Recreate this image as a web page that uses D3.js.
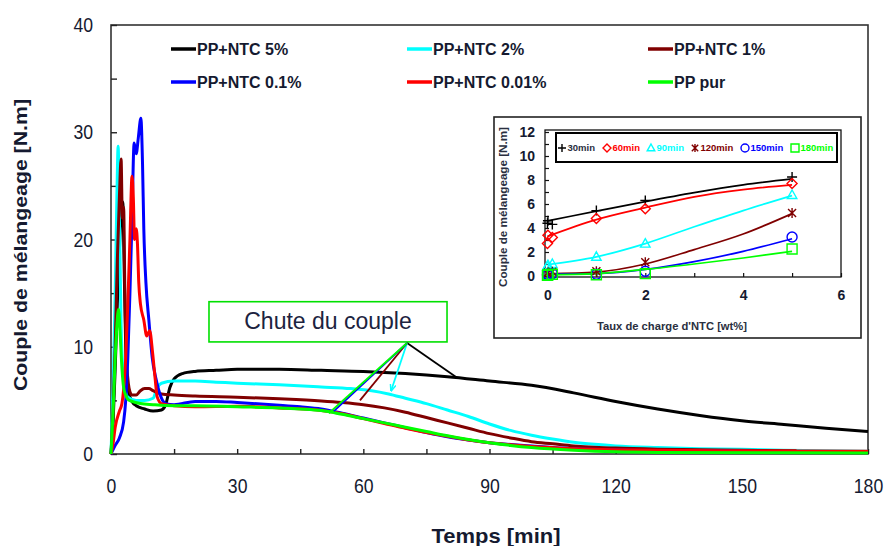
<!DOCTYPE html>
<html>
<head>
<meta charset="utf-8">
<script src="https://cdn.jsdelivr.net/npm/d3@7"></script>
<style>
  html, body { margin: 0; padding: 0; background: #ffffff; }
  svg { display: block; }
</style>
</head>
<body>
<svg id="chart" width="888" height="546"></svg>
<script>
// ---------- Mixing torque curves: [time (min), torque (N.m)] ----------
const seriesNames = ["PP+NTC 5%", "PP+NTC 2%", "PP+NTC 1%", "PP+NTC 0.1%", "PP+NTC 0.01%", "PP pur"];
const seriesColors = ["#000000", "#00ffff", "#800000", "#0000ff", "#ff0000", "#00ff00"];

const torqueNTC5 = [[0,0],[0.5,3],[1,8],[1.5,14],[2,19],[2.5,23],[2.8,23.5],[3.1,18],[3.5,10],[4,6],[5,4.9],[6,4.5],[8,4.2],[10,4.0],[12,4.1],[13,4.6],[14,6.2],[15,7.0],[17,7.5],[20,7.7],[25,7.8],[30,7.9],[40,7.9],[50,7.8],[60,7.7],[70,7.5],[80,7.2],[90,6.8],[100,6.4],[110,5.7],[120,4.9],[130,4.2],[140,3.6],[150,3.1],[160,2.75],[170,2.4],[180,2.1]];
const torqueNTC2 = [[0,0],[0.5,6],[1,15],[1.4,24],[1.7,28.7],[2,22],[2.4,12],[3,7],[3.5,5.8],[4,5.3],[6,5.0],[8,5.0],[10,5.2],[11,6.2],[12,6.6],[15,6.8],[20,6.8],[25,6.7],[30,6.6],[40,6.45],[50,6.25],[57,6.1],[62,5.9],[66,5.6],[70,5.2],[75,4.7],[80,4.1],[85,3.5],[90,2.8],[95,2.2],[100,1.75],[105,1.4],[110,1.1],[115,0.9],[120,0.75],[130,0.6],[140,0.5],[150,0.45],[160,0.35],[170,0.3],[180,0.25]];
const torqueNTC1 = [[0,0],[0.5,4],[1,10],[1.5,18],[2,24],[2.4,27.5],[2.7,22],[3,23],[3.3,15],[3.8,8],[4.5,5.8],[5,5.5],[6,5.5],[7,5.9],[8,6.1],[9,6.1],[10,5.9],[12,5.6],[15,5.5],[20,5.4],[30,5.3],[40,5.15],[50,4.95],[55,4.8],[60,4.6],[65,4.3],[70,3.9],[75,3.4],[80,2.9],[85,2.4],[90,1.9],[95,1.5],[100,1.15],[105,0.95],[110,0.75],[120,0.55],[130,0.45],[140,0.4],[150,0.35],[163,0.3]];
const torqueNTC01 = [[0,0],[1,0.8],[2,1.5],[3,3],[3.5,5],[4,9],[4.5,15],[5,22],[5.5,29],[6,28],[6.5,29.5],[7.1,31.3],[7.5,27],[7.8,21],[8.3,16],[9,12.5],[9.8,9],[10.7,7],[11.9,5.3],[13,4.7],[15,4.6],[20,4.9],[25,4.9],[30,4.8],[40,4.55],[45,4.4],[50,4.2],[55,3.8],[60,3.35],[65,2.9],[70,2.45],[75,2.0],[80,1.6],[85,1.3],[90,1.05],[100,0.75],[110,0.5],[120,0.4],[130,0.3],[140,0.3],[150,0.25],[160,0.2],[180,0.15]];
const torqueNTC001 = [[0,0],[0.5,1],[1,2.5],[2,4],[2.6,4.7],[3,6],[3.5,9],[4,14],[4.5,20],[5,25.9],[5.3,24],[5.6,20],[6,21],[6.3,19.5],[6.6,16],[7,14],[7.8,12.5],[8.5,11],[9.2,11.5],[9.9,9.4],[10.5,7],[11,5.3],[12,4.7],[15,4.5],[20,4.4],[30,4.45],[40,4.3],[50,4.05],[55,3.75],[60,3.3],[65,2.85],[70,2.4],[75,2.0],[80,1.65],[85,1.3],[90,1.05],[100,0.7],[110,0.5],[120,0.4],[130,0.35],[150,0.3],[180,0.25]];
const torquePP = [[0,0],[0.5,4],[1,9],[1.4,12],[1.8,13.5],[2.2,11],[2.6,8],[3,6.2],[3.5,5.5],[4,5.1],[5,4.9],[7,4.7],[10,4.6],[15,4.5],[20,4.5],[30,4.4],[40,4.3],[45,4.2],[50,4.05],[55,3.7],[60,3.3],[65,2.9],[70,2.5],[75,2.1],[80,1.7],[85,1.35],[90,1.05],[95,0.8],[100,0.6],[110,0.35],[120,0.2],[130,0.15],[180,0.1]];

const xTickLabels = [0, 30, 60, 90, 120, 150, 180];
const xTickMarks = [0, 15, 30, 45, 60, 75, 90, 105, 120, 135, 150, 165, 180];
const yTickLabels = [0, 10, 20, 30, 40];
const yTickMarks = [0, 5, 10, 15, 20, 25, 30, 35, 40];

// "Chute du couple" callout: box corners, hub and curve targets in (min, N.m)
const calloutText = "Chute du couple";
const calloutBox = [[23.3, 14.2], [79.9, 10.45]];
const calloutHub = [70.4, 10.35];
const calloutTargets = [[82.3, 7.1], [66.6, 5.9], [59.2, 5.0], [53.0, 4.0], [51.8, 3.8]];
const calloutColors = ["#000000", "#00ffff", "#800000", "#0000ff", "#00ff00"];

// ---------- Inset: torque versus NTC loading at fixed times ----------
const loadings = [0, 0.01, 0.1, 1, 2, 5];
const timeLabels = ["30min", "60min", "90min", "120min", "150min", "180min"];
const timeColors = ["#000000", "#ff0000", "#00ffff", "#800000", "#0000ff", "#00ff00"];
const at30 = [4.4, 4.6, 4.3, 5.45, 6.3, 8.25];
const at60 = [2.7, 3.4, 3.2, 4.8, 5.6, 7.7];
const at90 = [0.8, 0.9, 1.0, 1.6, 2.7, 6.75];
const at120 = [0.2, 0.3, 0.35, 0.4, 1.15, 5.25];
const at150 = [0.1, 0.15, 0.2, 0.15, 0.4, 3.25];
const at180 = [0.05, 0.1, 0.15, 0.1, 0.2, 2.25];
const fitLoadings = [0, 1, 2, 3, 4, 5];
const fit30 = [4.6, 5.4, 6.2, 6.95, 7.6, 8.1];
const fit60 = [3.3, 4.7, 5.7, 6.6, 7.2, 7.6];
const fit90 = [0.95, 1.6, 2.7, 4.1, 5.45, 6.7];
const fit120 = [0.2, 0.33, 1.0, 2.2, 3.5, 5.2];
const fit150 = [0.15, 0.2, 0.55, 1.2, 2.05, 3.1];
const fit180 = [0.1, 0.2, 0.55, 1.0, 1.5, 2.05];
const insetXLabels = [0, 2, 4, 6];
const insetYLabels = [0, 2, 4, 6, 8, 10, 12];

// ---------- Drawing ----------
const svg = d3.select("#chart");
const TXT = "#151a30";
const SANS = "'Liberation Sans',Arial,Helvetica,sans-serif";
const digitWidth = 9.8;   // condensed numerals on the main axes

const x = d3.scaleLinear().domain([0, 180]).range([111, 868]);
const y = d3.scaleLinear().domain([0, 40]).range([454, 25]);

// plot frame
svg.append("rect")
  .attr("x", x(0)).attr("y", y(40))
  .attr("width", x(180) - x(0)).attr("height", y(0) - y(40))
  .attr("fill", "none").attr("stroke", "#333").attr("stroke-width", 1.6);

// inward tick marks
const gxt = svg.append("g").attr("transform", `translate(0,${y(0)})`)
  .call(d3.axisBottom(x).tickValues(xTickMarks).tickSize(-5).tickFormat(""));
gxt.select(".domain").remove();
gxt.selectAll("line").attr("stroke", "#222").attr("stroke-width", 1.4);

const gyt = svg.append("g").attr("transform", `translate(${x(0)},0)`)
  .call(d3.axisLeft(y).tickValues(yTickMarks).tickSize(-6).tickFormat(""));
gyt.select(".domain").remove();
gyt.selectAll("line").attr("stroke", "#222").attr("stroke-width", 1.4);

// tick labels (narrow numerals)
function narrowLabels(sel) {
  sel.selectAll("text")
    .attr("font-family", SANS).attr("font-size", 21).attr("fill", TXT)
    .attr("textLength", d => String(d).length * digitWidth)
    .attr("lengthAdjust", "spacingAndGlyphs");
}
const gxl = svg.append("g").attr("transform", `translate(0,${y(0)})`)
  .call(d3.axisBottom(x).tickValues(xTickLabels).tickSize(0).tickPadding(24).tickFormat(d3.format("d")));
gxl.select(".domain").remove();
narrowLabels(gxl);

const gyl = svg.append("g").attr("transform", `translate(${x(0)},0)`)
  .call(d3.axisLeft(y).tickValues(yTickLabels).tickSize(0).tickPadding(18).tickFormat(d3.format("d")));
gyl.select(".domain").remove();
narrowLabels(gyl);

// axis titles
svg.append("text")
  .attr("x", 496).attr("y", 536).attr("dy", "0.35em")
  .attr("text-anchor", "middle")
  .attr("font-family", SANS)
  .attr("font-weight", "bold").attr("font-size", 21).attr("fill", TXT)
  .attr("textLength", 129).attr("lengthAdjust", "spacingAndGlyphs")
  .text("Temps [min]");

svg.append("text")
  .attr("transform", "translate(20,245) rotate(-90)")
  .attr("dy", "0.35em").attr("text-anchor", "middle")
  .attr("font-family", SANS).attr("font-weight", "bold").attr("font-size", 19).attr("fill", TXT)
  .attr("textLength", 292).attr("lengthAdjust", "spacingAndGlyphs")
  .text("Couple de mélangeage [N.m]");

// torque curves
const torqueSeries = [torqueNTC5, torqueNTC2, torqueNTC1, torqueNTC01, torqueNTC001, torquePP];
const line = d3.line().x(d => x(d[0])).y(d => y(d[1])).curve(d3.curveMonotoneX);
svg.append("g").selectAll("path").data(torqueSeries).join("path")
  .attr("d", line)
  .attr("fill", "none")
  .attr("stroke", (d, i) => seriesColors[i])
  .attr("stroke-width", 3)
  .attr("stroke-linejoin", "round");

// legend (3 columns x 2 rows)
const legCols = [171, 407, 648];
const legRows = [49, 82];
const leg = svg.append("g").selectAll("g").data(seriesNames).join("g")
  .attr("transform", (d, i) => `translate(${legCols[i % 3]},${legRows[Math.floor(i / 3)]})`);
leg.append("line").attr("x1", 0).attr("x2", 25).attr("y1", 0).attr("y2", 0)
  .attr("stroke", (d, i) => seriesColors[i]).attr("stroke-width", 3.5);
leg.append("text").attr("x", 26).attr("dy", "0.36em")
  .attr("font-family", SANS).attr("font-weight", "bold").attr("font-size", 16).attr("fill", TXT)
  .text(d => d);

// callout
const cb = svg.append("g");
cb.append("rect")
  .attr("x", x(calloutBox[0][0])).attr("y", y(calloutBox[0][1]))
  .attr("width", x(calloutBox[1][0]) - x(calloutBox[0][0]))
  .attr("height", y(calloutBox[1][1]) - y(calloutBox[0][1]))
  .attr("fill", "#ffffff").attr("stroke", "#00e000").attr("stroke-width", 1.6);
cb.append("text")
  .attr("x", (x(calloutBox[0][0]) + x(calloutBox[1][0])) / 2)
  .attr("y", (y(calloutBox[0][1]) + y(calloutBox[1][1])) / 2)
  .attr("dy", "0.3em").attr("text-anchor", "middle")
  .attr("font-family", SANS).attr("font-size", 23).attr("fill", "#1c2340")
  .text(calloutText);

const defs = svg.append("defs");
defs.append("marker").attr("id", "arrowCyan")
  .attr("viewBox", "0 0 10 10").attr("refX", 9).attr("refY", 5)
  .attr("markerWidth", 4).attr("markerHeight", 4).attr("orient", "auto")
  .append("path").attr("d", "M0,1L10,5L0,9").attr("fill", "none")
  .attr("stroke", "#00ffff").attr("stroke-width", 2);

cb.selectAll("line.pointer").data(calloutTargets).join("line")
  .attr("class", "pointer")
  .attr("x1", x(calloutHub[0])).attr("y1", y(calloutHub[1]))
  .attr("x2", d => x(d[0])).attr("y2", d => y(d[1]))
  .attr("stroke", (d, i) => calloutColors[i]).attr("stroke-width", 1.8)
  .attr("marker-end", (d, i) => i === 1 ? "url(#arrowCyan)" : null);

// ---------- inset ----------
const inset = svg.append("g");
inset.append("rect").attr("x", 494).attr("y", 117).attr("width", 367).attr("height", 221)
  .attr("fill", "#ffffff").attr("stroke", "#222").attr("stroke-width", 1.6);

const ix = d3.scaleLinear().domain([-0.05, 6]).range([545, 841]);
const iy = d3.scaleLinear().domain([0, 12]).range([276, 132]);

inset.append("rect").attr("x", ix(-0.05)).attr("y", 130)
  .attr("width", ix(6) - ix(-0.05)).attr("height", 147)
  .attr("fill", "none").attr("stroke", "#111").attr("stroke-width", 1.3);

const ixt = inset.append("g").attr("transform", "translate(0,277)")
  .call(d3.axisBottom(ix).tickValues(d3.range(0, 7)).tickSize(-4).tickFormat(""));
ixt.select(".domain").remove();
ixt.selectAll("line").attr("stroke", "#111").attr("stroke-width", 1.2);
const iyt = inset.append("g").attr("transform", `translate(${ix(-0.05)},0)`)
  .call(d3.axisLeft(iy).tickValues(d3.range(0, 13)).tickSize(-4).tickFormat(""));
iyt.select(".domain").remove();
iyt.selectAll("line").attr("stroke", "#111").attr("stroke-width", 1.2);

const ixl = inset.append("g").attr("transform", "translate(0,277)")
  .call(d3.axisBottom(ix).tickValues(insetXLabels).tickSize(0).tickPadding(13).tickFormat(d3.format("d")));
ixl.select(".domain").remove();
ixl.selectAll("text").attr("font-family", SANS).attr("font-weight", "bold")
  .attr("font-size", 14).attr("fill", TXT);
const iyl = inset.append("g").attr("transform", `translate(${ix(-0.05)},0)`)
  .call(d3.axisLeft(iy).tickValues(insetYLabels).tickSize(0).tickPadding(10).tickFormat(d3.format("d")));
iyl.select(".domain").remove();
iyl.selectAll("text").attr("font-family", SANS).attr("font-weight", "bold")
  .attr("font-size", 14).attr("fill", TXT);

inset.append("text").attr("x", 672).attr("y", 326).attr("dy", "0.35em")
  .attr("text-anchor", "middle").attr("font-family", SANS).attr("font-weight", "bold")
  .attr("font-size", 10).attr("fill", "#2a2f40")
  .attr("textLength", 150).attr("lengthAdjust", "spacingAndGlyphs")
  .text("Taux de charge d'NTC [wt%]");
inset.append("text").attr("transform", "translate(503,207) rotate(-90)").attr("dy", "0.35em")
  .attr("text-anchor", "middle").attr("font-family", SANS).attr("font-weight", "bold")
  .attr("font-size", 10).attr("fill", "#2a2f40")
  .attr("textLength", 160).attr("lengthAdjust", "spacingAndGlyphs")
  .text("Couple de mélangeage [N.m]");

// marker shapes per time
function markerPath(k, s) {
  switch (k) {
    case 0: return `M${-s},0H${s}M0,${-s}V${s}`;
    case 1: return `M0,${-s}L${s},0L0,${s}L${-s},0Z`;
    case 2: return `M0,${-s}L${s * 0.95},${s * 0.7}L${-s * 0.95},${s * 0.7}Z`;
    case 3: return `M${-s * 0.8},${-s * 0.8}L${s * 0.8},${s * 0.8}M${-s * 0.8},${s * 0.8}L${s * 0.8},${-s * 0.8}M0,${-s}V${s}`;
    case 4: return `M${s},0A${s},${s} 0 1,1 ${-s},0A${s},${s} 0 1,1 ${s},0Z`;
    default: return `M${-s},${-s}H${s}V${s}H${-s}Z`;
  }
}

const insetPoints = [at30, at60, at90, at120, at150, at180];
const insetFits = [fit30, fit60, fit90, fit120, fit150, fit180];
const fitLine = d3.line().x((d, i) => ix(fitLoadings[i])).y(d => iy(d)).curve(d3.curveMonotoneX);

inset.append("g").selectAll("path").data(insetFits).join("path")
  .attr("d", fitLine).attr("fill", "none")
  .attr("stroke", (d, i) => timeColors[i]).attr("stroke-width", 1.7);

insetPoints.forEach((vals, k) => {
  inset.append("g").selectAll("path").data(vals).join("path")
    .attr("transform", (d, i) => `translate(${ix(loadings[i])},${iy(d)})`)
    .attr("d", markerPath(k, 5))
    .attr("fill", "none").attr("stroke", timeColors[k]).attr("stroke-width", 1.4);
});

// inset legend
inset.append("rect").attr("x", 556).attr("y", 133).attr("width", 281).attr("height", 29)
  .attr("fill", "#ffffff").attr("stroke", "#000").attr("stroke-width", 2);
const legMarkX = [562, 607, 651, 695, 745, 795];
const il = inset.append("g").selectAll("g").data(timeLabels).join("g")
  .attr("transform", (d, i) => `translate(${legMarkX[i]},148)`);
il.append("path").attr("d", (d, i) => markerPath(i, 4))
  .attr("fill", "none").attr("stroke", (d, i) => timeColors[i]).attr("stroke-width", 1.4);
il.append("text").attr("x", 5.5).attr("dy", "0.35em")
  .attr("font-family", SANS).attr("font-weight", "bold").attr("font-size", 9.5)
  .attr("fill", (d, i) => i === 0 ? "#2a2f40" : timeColors[i])
  .text(d => d);
</script>
</body>
</html>
